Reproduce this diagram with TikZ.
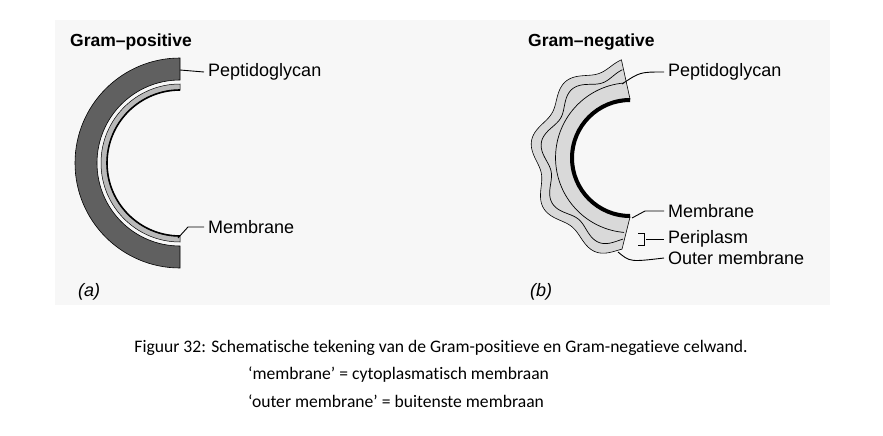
\documentclass[tikz,border=0pt]{standalone}
\usepackage{fontspec}
\setmainfont{Liberation Sans}
\newfontfamily\capfont[RawFeature=-liga]{Carlito}
\begin{document}
\begin{tikzpicture}[x=1pt,y=-1pt,
  lbl/.style={anchor=west,inner sep=0pt,font=\fontsize{18}{20}\selectfont},
  ttl/.style={anchor=west,inner sep=0pt,font=\fontsize{17.5}{20}\selectfont\bfseries},
  captxt/.style={anchor=west,inner sep=0pt,font=\capfont\fontsize{17.6}{20}\selectfont},
  leader/.style={draw=black,line width=0.9pt}]
\useasboundingbox (0,0) rectangle (883,436);
\fill[gray!6] (55,20) rectangle (830,305);
% ---- Gram-positive
\def\cx{180}\def\cy{163}
\fill[gray!75!black,draw=black,line width=0.6pt] (\cx,\cy-105) arc[start angle=270,end angle=90,radius=105] -- (\cx,\cy+83) arc[start angle=90,end angle=270,radius=83] -- cycle;
\fill[gray!55,draw=black,line width=0.5pt] (\cx,\cy-79) arc[start angle=270,end angle=90,radius=79] -- (\cx,\cy+73) arc[start angle=90,end angle=270,radius=73] -- cycle;
\draw[line width=1.6pt] (\cx,\cy-73) arc[start angle=270,end angle=90,radius=73];
\node[ttl] (tp) at (70,42) {Gram–positive};
\node[lbl] (pp) at (208,72) {Peptidoglycan};
\node[lbl] (pm) at (208,227) {Membrane};
\node[lbl,font=\fontsize{18}{20}\selectfont\itshape] (pa) at (78,292) {(a)};
\coordinate (pp0) at (\cx,70);
\coordinate (pm0) at (\cx-2,238);
\draw[leader] (pp0) -- ([xshift=-4pt]pp.west);
\draw[leader] (pm0) -- (188,227) -- ([xshift=-4pt]pm.west);
% ---- Gram-negative
\def\nx{630}\def\ny{158}
\fill[gray!30,draw=black,line width=0.6pt]
  plot[domain=95:265,samples=120] ({\nx+(95+5*sin(9*\x))*cos(\x)},{\ny-(95+5*sin(9*\x))*sin(\x)})
  -- (\nx,\ny+59) arc[start angle=90,end angle=270,radius=59] -- cycle;
\draw[line width=0.7pt]
  plot[domain=95:265,samples=120] ({\nx+(85+5*sin(9*\x))*cos(\x)},{\ny-(85+5*sin(9*\x))*sin(\x)});
\draw[line width=0.7pt] (\nx-6,\ny-75) arc[start angle=265,end angle=95,radius=75];
\fill[black] (\nx,\ny-60) arc[start angle=270,end angle=90,radius=60] -- (\nx,\ny+56) arc[start angle=90,end angle=270,radius=56] -- cycle;
\node[ttl] (tn) at (528,42) {Gram–negative};
\node[lbl] (np) at (668,72) {Peptidoglycan};
\node[lbl] (nm) at (668,211) {Membrane};
\node[lbl] (nper) at (668,239) {Periplasm};
\node[lbl] (no) at (668,258) {Outer membrane};
\node[lbl,font=\fontsize{18}{20}\selectfont\itshape] (nb) at (530,292) {(b)};
\coordinate (np0) at (622,84);
\coordinate (nm0) at (632,218);
\coordinate (no0) at (618,252);
\coordinate (br) at (646,239);
\draw[leader] (np0) .. controls (640,72) .. ([xshift=-4pt]np.west);
\draw[leader] (nm0) -- (645,211) -- ([xshift=-4pt]nm.west);
\draw[leader] (638,233) -- (644,233) -- (644,245) -- (638,245);
\draw[leader] (br) -- ([xshift=-4pt]nper.west);
\draw[leader] (no0) .. controls (630,262) .. ([xshift=-4pt]no.west);
% ---- caption
\node[captxt,anchor=center] (c1) at (441,348) {Figuur 32: Schematische tekening van de Gram-positieve en Gram-negatieve celwand.};
\node[captxt] (c2) at (248,375) {‘membrane’ = cytoplasmatisch membraan};
\node[captxt] (c3) at (248,401) {‘outer membrane’ = buitenste membraan};
\end{tikzpicture}
\end{document}
